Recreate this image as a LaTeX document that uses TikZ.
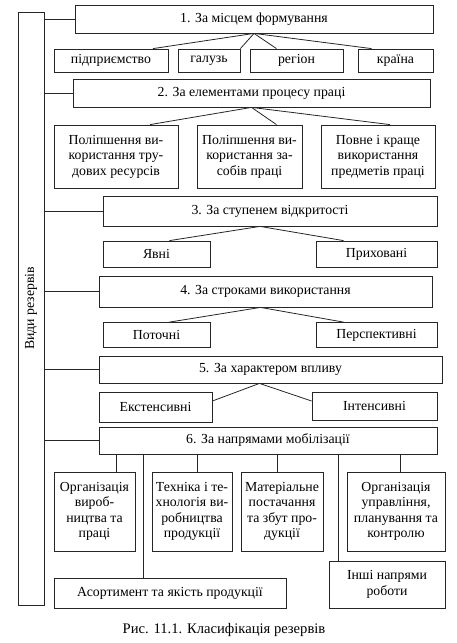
\documentclass[tikz,border=0pt]{standalone}
\usepackage{fontspec}
\setmainfont{Liberation Serif}
\begin{document}
\begin{tikzpicture}[x=1pt, y=-1pt, font=\fontsize{13.8}{15.5}\selectfont,
    line width=0.8pt, draw=black!85,
    box/.style={draw, rectangle, inner sep=1pt, align=center},
    kind/.style={box, minimum height=28pt},
    leaf/.style={box, minimum height=24pt}]
  \useasboundingbox (0,0) rectangle (457,643);
  \node[box, rotate=90, minimum width=593pt, minimum height=26pt] (side) at (31,308.5) {Види резервів};

  \node[kind, minimum width=358pt] (c1) at (254,19) {1. За місцем формування};
  \node[leaf, minimum width=114pt, minimum height=23pt] (p1) at (111,60.5) {підприємство};
  \node[leaf, minimum width=62pt, minimum height=23pt] (p2) at (209,60.5) {галузь};
  \node[leaf, minimum width=93pt, minimum height=23pt] (p3) at (296.5,60.5) {регіон};
  \node[leaf, minimum width=75pt, minimum height=23pt] (p4) at (395.5,60.5) {країна};

  \node[kind, minimum width=357pt] (c2) at (251.5,93) {2. За елементами процесу праці};
  \node[box, minimum width=124pt, minimum height=63pt] (e1) at (116,156.5) {Поліпшення ви-\\користання тру-\\дових ресурсів};
  \node[box, minimum width=105pt, minimum height=63pt] (e2) at (249.5,156.5) {Поліпшення ви-\\користання за-\\собів праці};
  \node[box, minimum width=114pt, minimum height=63pt] (e3) at (378,156.5) {Повне і краще\\використання\\предметів праці};

  \node[kind, minimum width=334pt, minimum height=30pt] (c3) at (270,211) {3. За ступенем відкритості};
  \node[leaf, minimum width=107pt, minimum height=26pt] (o1) at (156.5,254) {Явні};
  \node[leaf, minimum width=121pt, minimum height=26pt] (o2) at (376.5,254) {Приховані};

  \node[kind, minimum width=333pt, minimum height=31pt] (c4) at (265.5,291.5) {4. За строками використання};
  \node[leaf, minimum width=107pt, minimum height=25pt] (t1) at (156.5,335) {Поточні};
  \node[leaf, minimum width=121pt, minimum height=25pt] (t2) at (376.5,335) {Перспективні};

  \node[kind, minimum width=343pt, minimum height=27pt] (c5) at (270.5,369.5) {5. За характером впливу};
  \node[leaf, minimum width=113pt, minimum height=30pt] (i1) at (155.5,407) {Екстенсивні};
  \node[leaf, minimum width=125pt, minimum height=28pt] (i2) at (374.5,406) {Інтенсивні};

  \node[kind, minimum width=338pt, minimum height=27pt] (c6) at (268,440.5) {6. За напрямами мобілізації};
  \node[box, minimum width=81pt, minimum height=79pt] (d1) at (94.5,511.5) {Організація\\вироб-\\ництва та\\праці};
  \node[box, minimum width=80pt, minimum height=79pt] (d2) at (192,511.5) {Техніка і те-\\хнологія ви-\\робництва\\продукції};
  \node[box, minimum width=82pt, minimum height=79pt] (d3) at (282,511.5) {Матеріальне\\постачання\\та збут про-\\дукції};
  \node[box, minimum width=98pt, minimum height=79pt] (d4) at (396,511.5) {Організація\\управління,\\планування та\\контролю};
  \node[box, minimum width=232pt, minimum height=30pt] (d5) at (170,593) {Асортимент та якість продукції};
  \node[box, minimum width=116pt, minimum height=47pt] (d6) at (387,584.5) {Інші напрями\\роботи};

  \node[font=\fontsize{14.6}{16}\selectfont] (cap) at (224,630) {Рис. 11.1. Класифікація резервів};

  \foreach \c in {c1,c2,c3,c4,c5,c6}
    \draw (\c.west) -- (\c.west -| side.south);

  \draw (c1.south) -- ([xshift=42pt]p1.north);
  \draw (c1.south) -- (p2.north east);
  \draw (c1.south) -- ([xshift=-20pt]p3.north);
  \draw (c1.south) -- ([xshift=-24pt]p4.north);

  \draw (c2.south) -- ([xshift=34pt]e1.north);
  \draw (c2.south) -- ([xshift=27pt]e2.north);
  \draw (c2.south) -- ([xshift=12pt]e3.north);

  \draw ([xshift=-10pt]c3.south) -- ([xshift=13pt]o1.north);
  \draw ([xshift=-10pt]c3.south) -- ([xshift=-33pt]o2.north);

  \draw ([xshift=-5pt]c4.south) -- ([xshift=13pt]t1.north);
  \draw ([xshift=-5pt]c4.south) -- ([xshift=-33pt]t2.north);

  \draw ([xshift=-11pt]c5.south) -- ([yshift=6pt]i1.east);
  \draw ([xshift=-11pt]c5.south) -- ([yshift=5pt]i2.west);

  \draw ([xshift=22pt]d1.north) -- ([xshift=22pt]d1.north |- c6.south);
  \draw ([xshift=5pt]d2.north) -- ([xshift=5pt]d2.north |- c6.south);
  \draw ([xshift=-5pt]d3.north) -- ([xshift=-5pt]d3.north |- c6.south);
  \draw ([xshift=4pt]d4.north) -- ([xshift=4pt]d4.north |- c6.south);
  \draw ([xshift=-27pt]d5.north) -- ([xshift=-27pt]d5.north |- c6.south);
  \draw ([xshift=-49pt]d6.north) -- ([xshift=-49pt]d6.north |- c6.south);
\end{tikzpicture}
\end{document}
